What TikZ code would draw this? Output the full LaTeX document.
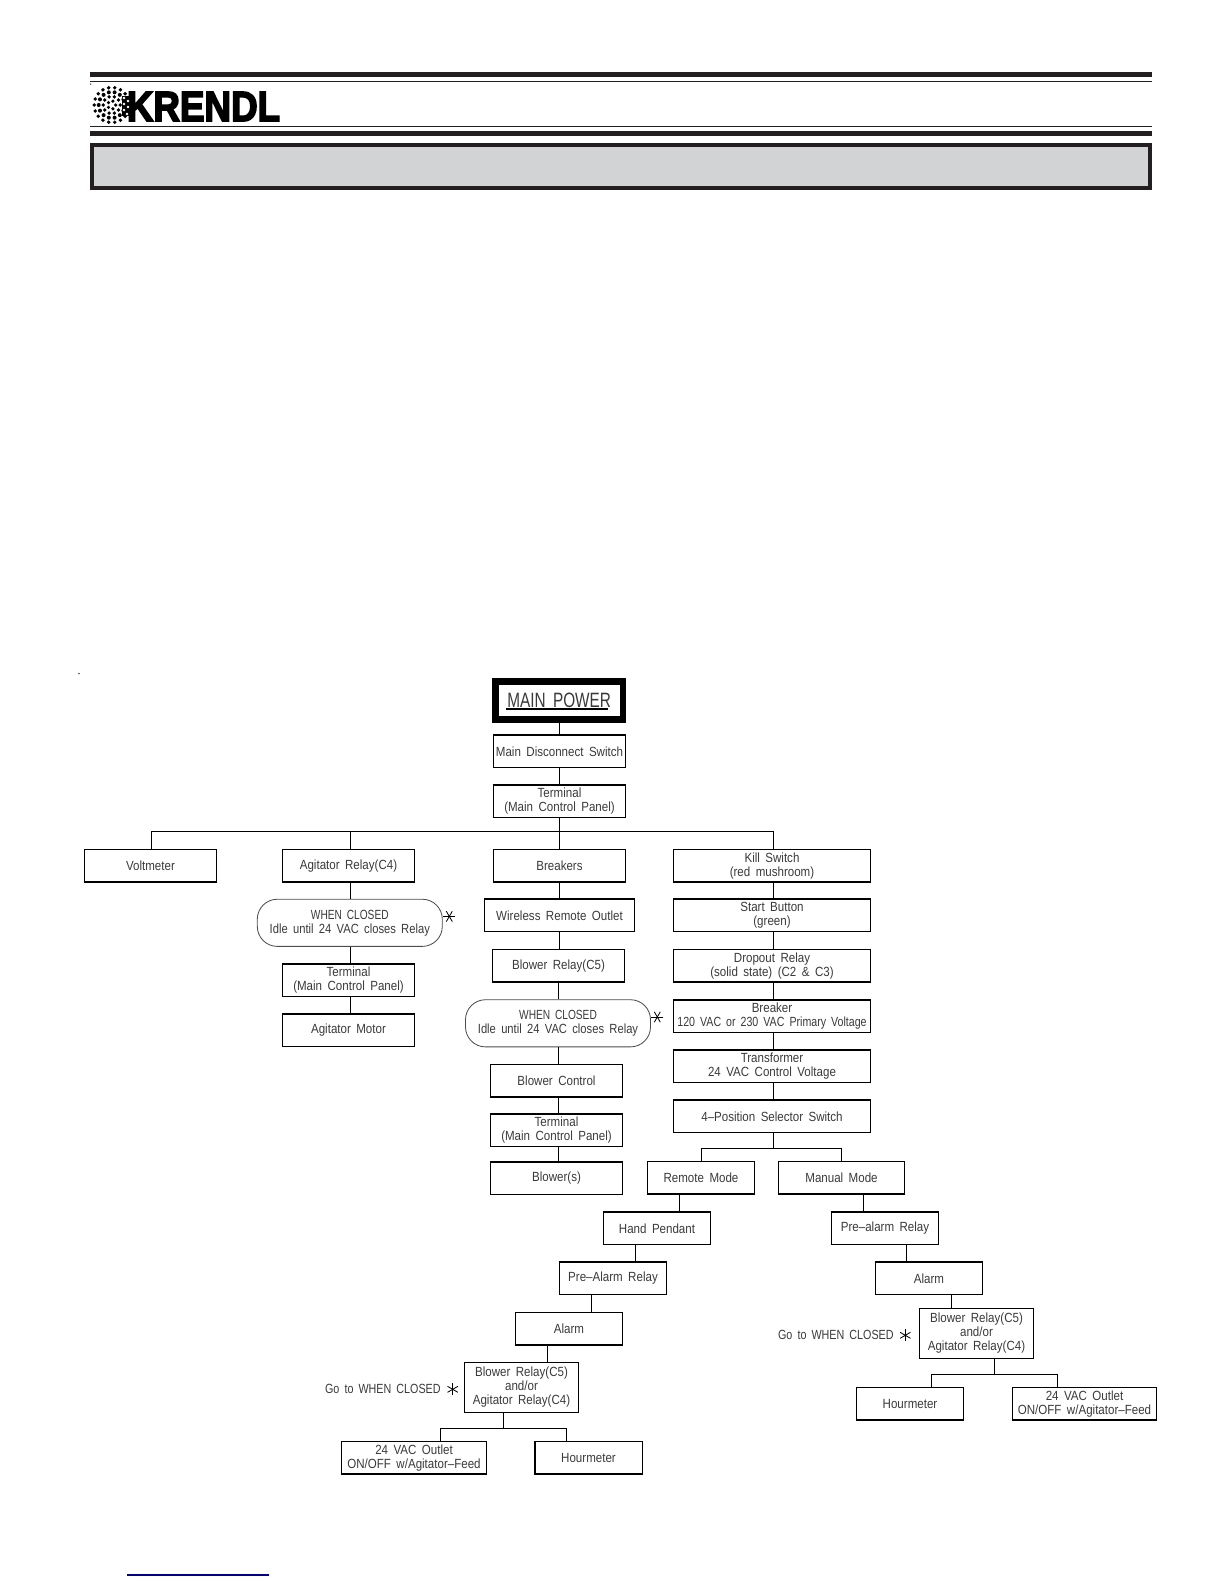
\documentclass[tikz,border=0pt]{standalone}
\usepackage{fontspec}
\setmainfont[WordSpace=1.7,FakeStretch=0.87]{Liberation Sans}
\newfontfamily\logofont[FakeBold=4]{Liberation Sans Bold}
\definecolor{bandK}{HTML}{231F20}
\definecolor{bandG}{HTML}{D1D3D4}
\definecolor{inkT}{HTML}{3A3A3A}
\definecolor{linkB}{HTML}{00008B}
\tikzset{
  labeltext/.style={text=inkT,font=\fontsize{8}{8.4}\selectfont,align=center,inner sep=0pt},
  flowbox/.style={labeltext,draw=black,line width=0.8pt,minimum width=79.4bp,minimum height=19.4bp},
  modebox/.style={flowbox,minimum width=64.4bp},
  widebox/.style={flowbox,minimum width=118.4bp},
  pillbox/.style={labeltext,draw=black!70,line width=0.5pt,rounded corners=12bp,minimum width=111bp,minimum height=28.3bp},
  wire/.style={line width=0.8pt}
}
\newcommand{\starmark}[2]{%
  \foreach \a in {0,60,120}{ \draw[line width=0.5pt] (#1)+(\a+#2:6) -- +(\a+#2+180:6); }}
\newcommand{\whenclosed}{\scalebox{0.88}[1]{WHEN CLOSED}\\\scalebox{0.97}[1]{Idle until 24 VAC closes Relay}}
\begin{document}
\begin{tikzpicture}[x=0.6bp,y=-0.6bp]
  \useasboundingbox (0,0) rectangle (1224,1584);
  % page header
  \fill[bandK] (90,72) rectangle (1152,77);
  \fill[bandK] (90,131) rectangle (1152,136);
  \draw[bandK,line width=0.7pt] (90,81.3) -- (1152,81.3);
  \draw[bandK,line width=0.7pt] (90,126.3) -- (1152,126.3);
  \draw[bandK,fill=bandG,line width=2.4pt] (92,145) rectangle (1150,188);
  \fill (90.7,84) circle (0.7);
  \fill (79,673.6) circle (0.7);
  % logo dots
  \foreach \r/\n/\s in {4/5/1.8,8.5/10/1.9,13/14/2,17.5/18/1.9}{
    \foreach \k in {1,...,\n}{ \fill (111.7,105)+(\k*360/\n:\r) circle (\s); }
  }
  \node[inner sep=0pt] (logo) at (203.5,106.5)
    {\resizebox{92bp}{17.4bp}{\logofont KRENDL}};
  \fill[black] (122,96) rectangle (130,116);
  \foreach \x/\y in {124/98,128/101,124/104,128/107,124/110,127/114}{ \fill[white] (\x,\y) circle (1.3); }

  % main stem
  \node[flowbox,line width=4bp,minimum width=76.5bp,minimum height=22.5bp,font=\fontsize{12.5}{13}\selectfont]
     (mainpower) at (559.2,700.5) {\scalebox{0.85}[1]{MAIN POWER}};
  \draw[line width=0.9pt] ([shift={(-53,8.7)}]mainpower.center) -- +(102,0);
  \node[flowbox] (disconnect) at (559.5,751.3) {Main Disconnect Switch};
  \node[flowbox] (mainterm) at (559.5,801.3) {Terminal\\(Main Control Panel)};
  \coordinate (busW) at (151.3,831.3);
  \coordinate (busE) at (773.3,831.3);
  \draw[wire] (busW) -- (busE);

  % voltmeter and agitator branch
  \node[flowbox] (voltmeter) at (150.5,865.8) {Voltmeter};
  \node[flowbox] (agrelay) at (348.5,865.8) {Agitator Relay(C4)};
  \node[pillbox] (agclosed) at (349.8,922.8) {\whenclosed};
  \node[flowbox] (agterm) at (348.5,980.3) {Terminal\\(Main Control Panel)};
  \node[flowbox] (agmotor) at (348.5,1030.3) {Agitator Motor};
  \coordinate (agstar) at (449.3,916.4);
  \starmark{agstar}{0}

  % blower branch
  \node[flowbox] (breakers) at (559.5,865.8) {Breakers};
  \node[flowbox,minimum width=90.2bp] (wireless) at (559.5,915.3) {Wireless Remote Outlet};
  \node[flowbox] (blrelay) at (558.5,965.8) {Blower Relay(C5)};
  \node[pillbox] (blclosed) at (558,1023.3) {\whenclosed};
  \node[flowbox] (blcontrol) at (556.5,1080.8) {Blower Control};
  \node[flowbox] (blterm) at (556.5,1130.3) {Terminal\\(Main Control Panel)};
  \node[flowbox] (blowers) at (556.5,1178.3) {Blower(s)};
  \coordinate (blstar) at (657.3,1017);
  \starmark{blstar}{0}

  % control branch
  \node[widebox] (kill) at (772,865.8) {Kill Switch\\(red mushroom)};
  \node[widebox] (start) at (772,915.3) {Start Button\\(green)};
  \node[widebox] (dropout) at (772,965.8) {Dropout Relay\\(solid state) (C2 \& C3)};
  \node[widebox] (breaker) at (772,1016.3) {Breaker\\\scalebox{0.92}[1]{120 VAC or 230 VAC Primary Voltage}};
  \node[widebox] (transformer) at (772,1066.3) {Transformer\\24 VAC Control Voltage};
  \node[widebox] (selector) at (772,1116.3) {4--Position Selector Switch};

  % remote side
  \node[modebox] (remote) at (701,1177.8) {Remote Mode};
  \node[modebox] (pendant) at (657,1228.3) {Hand Pendant};
  \node[modebox] (rprealarm) at (613,1278.3) {Pre--Alarm Relay};
  \node[modebox] (ralarm) at (569,1328.8) {Alarm};
  \node[flowbox,minimum width=68.6bp,minimum height=30bp] (rrelays) at (521.5,1387.3)
     {Blower Relay(C5)\\and/or\\Agitator Relay(C4)};
  \node[flowbox,minimum width=87.2bp] (routlet) at (414,1457.8) {24 VAC Outlet\\ON/OFF w/Agitator--Feed};
  \node[modebox] (rhours) at (588.5,1457.8) {Hourmeter};
  \node[labeltext,anchor=east] (rgoto) at (441,1389.3) {\scalebox{0.93}[1]{Go to WHEN CLOSED}};
  \coordinate (rstar) at (452.7,1389.3);
  \starmark{rstar}{30}

  % manual side
  \node[flowbox,minimum width=75.8bp] (manual) at (841.5,1177.8) {Manual Mode};
  \node[modebox] (mprealarm) at (885,1228.3) {Pre--alarm Relay};
  \node[modebox] (malarm) at (929,1278.3) {Alarm};
  \node[flowbox,minimum width=68.6bp,minimum height=30bp] (mrelays) at (976.5,1333.3)
     {Blower Relay(C5)\\and/or\\Agitator Relay(C4)};
  \node[modebox] (mhours) at (910,1403.8) {Hourmeter};
  \node[flowbox,minimum width=86.6bp] (moutlet) at (1084.5,1403.8) {24 VAC Outlet\\ON/OFF w/Agitator--Feed};
  \node[labeltext,anchor=east] (mgoto) at (894,1335.3) {\scalebox{0.93}[1]{Go to WHEN CLOSED}};
  \coordinate (mstar) at (905.3,1335.3);
  \starmark{mstar}{30}

  % straight links, each at its own x
  \foreach \x/\a/\b in {559.3/mainpower/disconnect,559.3/disconnect/mainterm,
      350.3/agrelay/agclosed,350.3/agclosed/agterm,350.3/agterm/agmotor,
      559.3/breakers/wireless,559.3/wireless/blrelay,558.3/blrelay/blclosed,
      558.3/blclosed/blcontrol,558.3/blcontrol/blterm,558.3/blterm/blowers,
      773.3/kill/start,773.3/start/dropout,773.3/dropout/breaker,
      773.3/breaker/transformer,773.3/transformer/selector,
      679.3/remote/pendant,635.3/pendant/rprealarm,591.3/rprealarm/ralarm,547.3/ralarm/rrelays,
      863.3/manual/mprealarm,906.3/mprealarm/malarm,951.3/malarm/mrelays}{
    \draw[wire] (\a.south -| \x,0) -- (\b.north -| \x,0);
  }
  % drops from the main bus
  \draw[wire] (mainterm.south -| 559.3,0) -- (559.3,831.3) -- (breakers.north -| 559.3,0);
  \foreach \x/\b in {151.3/voltmeter,350.3/agrelay,773.3/kill}{
    \draw[wire] (\x,831.3) -- (\b.north -| \x,0);
  }
  % forks
  \draw[wire] (selector.south -| 773.3,0) -- (773.3,1148.3);
  \draw[wire] (remote.north -| 701.3,0) -- (701.3,1148.3) -- (841.3,1148.3) -- (manual.north -| 841.3,0);
  \draw[wire] (rrelays.south -| 503.3,0) -- (503.3,1428.3);
  \draw[wire] (routlet.north -| 440.3,0) -- (440.3,1428.3) -- (566.7,1428.3) -- (rhours.north -| 566.7,0);
  \draw[wire] (mrelays.south -| 994.3,0) -- (994.3,1374.3);
  \draw[wire] (mhours.north -| 931.7,0) -- (931.7,1374.3) -- (1057.3,1374.3) -- (moutlet.north -| 1057.3,0);

  \draw[linkB,line width=0.7pt] (127,1575) -- (269,1575);
\end{tikzpicture}
\end{document}
